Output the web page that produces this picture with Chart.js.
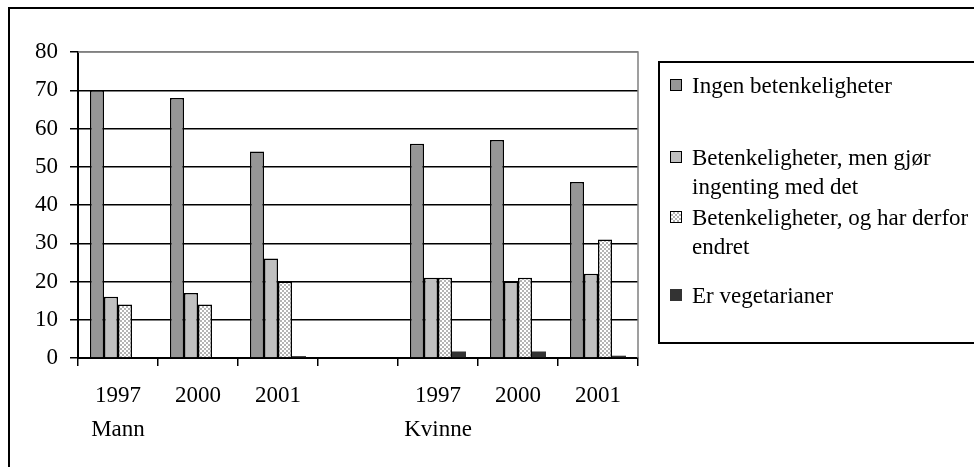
<!DOCTYPE html>
<html>
<head>
<meta charset="utf-8">
<script src="https://cdn.jsdelivr.net/npm/chart.js@4/dist/chart.umd.min.js"></script>
<style>
  html, body { margin: 0; padding: 0; background: #fff; overflow: hidden; }
  #wrap { position: relative; width: 974px; height: 467px; }
  #frame { position: absolute; left: 8px; top: 7px; width: 1000px; height: 500px; border: 2px solid #000; box-sizing: border-box; }
  #legend { position: absolute; left: 658px; top: 61px; width: 400px; height: 283px; border: 2px solid #000; box-sizing: border-box;
            font-family: 'Liberation Serif', 'Times New Roman', serif; font-size: 23px; line-height: 29px; color: #000; }
  .item { position: absolute; left: 32px; white-space: nowrap; }
  .box { position: absolute; left: -22px; top: 8px; width: 12px; height: 12px; border: 1.5px solid #000; box-sizing: border-box; }
  canvas { position: absolute; left: 0; top: 0; }
</style>
</head>
<body>
<div id="wrap">
  <div id="frame"></div>
  <canvas id="chart" width="974" height="467"></canvas>
  <div id="legend"></div>
</div>
<script>
// categories (year + group)
years = ['1997', '2000', '2001', '', '1997', '2000', '2001']
groups = ['Mann', '', '', '', 'Kvinne', '', '']

// series, percent
ingen = [70, 68, 54, null, 56, 57, 46]
menIngenting = [16, 17, 26, null, 21, 20, 22]
harEndret = [14, 14, 20, null, 21, 21, 31]
vegetar = [0, 0, 0.5, null, 1.7, 1.7, 0.6]

yTicks = [0, 10, 20, 30, 40, 50, 60, 70, 80]

// legend text, split the way it wraps in the box
legendLines = [
    ['Ingen betenkeligheter'],
    ['Betenkeligheter, men gjør', 'ingenting med det'],
    ['Betenkeligheter, og har derfor', 'endret'],
    ['Er vegetarianer']
]
legendTop = [8, 80, 140, 218]

function checker()
{
    var c = document.createElement('canvas');
    c.width = 4; c.height = 4;
    var g = c.getContext('2d');
    g.fillStyle = '#ffffff';
    g.fillRect(0, 0, 4, 4);
    g.fillStyle = '#b4b4b4';
    g.fillRect(0, 0, 2, 2);
    g.fillRect(2, 2, 2, 2);
    return g.createPattern(c, 'repeat');
}

var fills = ['#969696', '#c0c0c0', checker(), '#333333']
var swatch = ['#969696', '#c0c0c0', 'repeating-conic-gradient(#b4b4b4 0 25%, #fff 0 50%) 0 0/4px 4px', '#333333']

var labels = years.map(function(y, i){ return groups[i] ? [y, groups[i]] : y; });

var series = [ingen, menIngenting, harEndret, vegetar];
var datasets = series.map(function(d, i){
    return {
        label: legendLines[i].join(' '),
        data: d,
        backgroundColor: fills[i],
        borderColor: '#000',
        borderWidth: i == 3 ? 0 : 1.5,
        categoryPercentage: 0.7,
        barPercentage: 1.0
    };
});

// gray top/right edge of the plot area
var plotEdge = {
    id: 'plotEdge',
    afterDraw: function(chart){
        var a = chart.chartArea, ctx = chart.ctx;
        ctx.save();
        ctx.strokeStyle = '#808080';
        ctx.lineWidth = 1.5;
        ctx.beginPath();
        ctx.moveTo(a.left, a.top);
        ctx.lineTo(a.right, a.top);
        ctx.lineTo(a.right, a.bottom);
        ctx.stroke();
        ctx.restore();
    }
};

Chart.defaults.font.family = "'Liberation Serif', 'Times New Roman', serif";
Chart.defaults.font.size = 23;
Chart.defaults.color = '#000';

new Chart(document.getElementById('chart'), {
    type: 'bar',
    data: { labels: labels, datasets: datasets },
    options: {
        responsive: false,
        animation: false,
        layout: { padding: { left: 0, top: 52, right: 336, bottom: 0 } },
        plugins: { legend: { display: false }, tooltip: { enabled: false } },
        scales: {
            x: {
                grid: { display: true, drawOnChartArea: false, drawTicks: true, tickLength: 8, color: '#000', lineWidth: 1.5, offset: true },
                border: { color: '#000', width: 2 },
                ticks: { maxRotation: 0, autoSkip: false, padding: 13, font: { lineHeight: 34 / 23 } },
                afterFit: function(s){ s.height = 109; }
            },
            y: {
                min: 0, max: 80,
                afterBuildTicks: function(s){ s.ticks = yTicks.map(function(v){ return {value: v}; }); },
                grid: { color: function(c){ return c.tick && c.tick.value == 80 ? '#808080' : '#000'; }, tickColor: '#000', lineWidth: 1.5, tickLength: 8 },
                border: { color: '#000', width: 2 },
                ticks: { padding: 12 },
                afterFit: function(s){ s.width = 78; }
            }
        }
    },
    plugins: [plotEdge]
});

var leg = document.getElementById('legend');
legendLines.forEach(function(lines, i){
    var it = document.createElement('div');
    it.className = 'item';
    it.style.top = legendTop[i] + 'px';
    it.innerHTML = lines.join('<br>');
    var b = document.createElement('div');
    b.className = 'box';
    b.style.background = swatch[i];
    if (i == 3) b.style.border = 'none';
    it.appendChild(b);
    leg.appendChild(it);
});
</script>
</body>
</html>
